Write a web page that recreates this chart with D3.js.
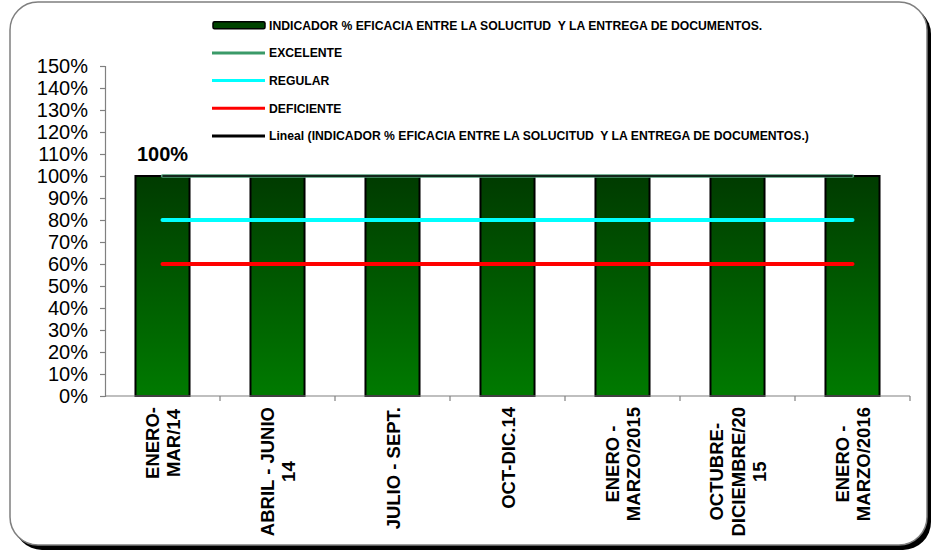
<!DOCTYPE html>
<html>
<head>
<meta charset="utf-8">
<script src="https://cdn.jsdelivr.net/npm/d3@7"></script>
<style>
  html, body { margin: 0; padding: 0; background: #fff; }
  svg { display: block; font-family: Arial, "Liberation Sans", sans-serif; }
</style>
</head>
<body>
<svg width="933" height="554"></svg>
<script>
// datos del gráfico
const categorias = [
  "ENERO-\nMAR/14",
  "ABRIL - JUNIO\n14",
  "JULIO - SEPT.",
  "OCT-DIC.14",
  "ENERO -\nMARZO/2015",
  "OCTUBRE-\nDICIEMBRE/20\n15",
  "ENERO -\nMARZO/2016"
];
const indicador = [1, 1, 1, 1, 1, 1, 1];
const excelente = [1, 1, 1, 1, 1, 1, 1];
const regular = [0.8, 0.8, 0.8, 0.8, 0.8, 0.8, 0.8];
const deficiente = [0.6, 0.6, 0.6, 0.6, 0.6, 0.6, 0.6];
const lineal = [1, 1, 1, 1, 1, 1, 1];
const ticksY = [0, 0.1, 0.2, 0.3, 0.4, 0.5, 0.6, 0.7, 0.8, 0.9, 1.0, 1.1, 1.2, 1.3, 1.4, 1.5];
const etiquetasLeyenda = [
  "INDICADOR % EFICACIA ENTRE LA SOLUCITUD  Y LA ENTREGA DE DOCUMENTOS.",
  "EXCELENTE",
  "REGULAR",
  "DEFICIENTE",
  "Lineal (INDICADOR % EFICACIA ENTRE LA SOLUCITUD  Y LA ENTREGA DE DOCUMENTOS.)"
];

const svg = d3.select("svg");

// marco con sombra
svg.append("rect")
  .attr("x", 14).attr("y", 6).attr("width", 917).attr("height", 544)
  .attr("rx", 28).attr("fill", "#000");
svg.append("rect")
  .attr("x", 10).attr("y", 2).attr("width", 917).attr("height", 543)
  .attr("rx", 28).attr("fill", "#fff")
  .attr("stroke", "#7f7f7f").attr("stroke-width", 1.5);

// degradado de las barras
const grad = svg.append("defs").append("linearGradient")
  .attr("id", "verde").attr("x1", 0).attr("y1", 0).attr("x2", 0).attr("y2", 1);
grad.append("stop").attr("offset", "0%").attr("stop-color", "#003b00");
grad.append("stop").attr("offset", "100%").attr("stop-color", "#007a00");

// escalas
const x = d3.scaleBand().domain(categorias).range([105, 910]).paddingInner(0.53).paddingOuter(0.265);
const y = d3.scaleLinear().domain([0, 1.5]).range([396, 66]);
const cx = d => x(d) + x.bandwidth() / 2;

// eje Y
const ejeY = svg.append("g")
  .attr("transform", "translate(105,0)")
  .call(d3.axisLeft(y).tickValues(ticksY).tickFormat(d3.format(".0%")).tickSizeOuter(0).tickSize(5).tickPadding(12));
ejeY.selectAll("line, path").attr("stroke", "#808080").attr("stroke-width", 1.2);
ejeY.selectAll("text").attr("font-size", 20).attr("fill", "#000")
  .attr("font-family", "Arial, 'Liberation Sans', sans-serif");

// barras
svg.selectAll(".barra")
  .data(categorias)
  .enter()
  .append("rect")
  .attr("class", "barra")
  .attr("x", d => x(d))
  .attr("y", (d, i) => y(indicador[i]))
  .attr("width", x.bandwidth())
  .attr("height", (d, i) => y(0) - y(indicador[i]))
  .attr("fill", "url(#verde)")
  .attr("stroke", "#000")
  .attr("stroke-width", 2);

// eje X con marcas entre categorías
const ejeX = svg.append("g").attr("transform", "translate(0,396)");
ejeX.append("line").attr("x1", 105).attr("x2", 910).attr("stroke", "#808080").attr("stroke-width", 1.2);
ejeX.selectAll(".marca")
  .data(categorias)
  .enter()
  .append("line")
  .attr("x1", d => x(d) - x.step() * x.paddingInner() / 2 + x.step())
  .attr("x2", d => x(d) - x.step() * x.paddingInner() / 2 + x.step())
  .attr("y1", 0).attr("y2", 5)
  .attr("stroke", "#808080").attr("stroke-width", 1.2);

// líneas de referencia
const linea = d3.line()
  .x((d, i) => cx(categorias[i]))
  .y(d => y(d));

svg.append("path").datum(excelente).attr("d", linea)
  .attr("fill", "none").attr("stroke", "#4f9a76").attr("stroke-width", 3.5).attr("stroke-linecap", "round");
svg.append("path").datum(regular).attr("d", linea)
  .attr("fill", "none").attr("stroke", "#00ffff").attr("stroke-width", 4).attr("stroke-linecap", "round");
svg.append("path").datum(deficiente).attr("d", linea)
  .attr("fill", "none").attr("stroke", "#ff0000").attr("stroke-width", 4).attr("stroke-linecap", "round");
svg.append("path").datum(lineal).attr("d", linea)
  .attr("fill", "none").attr("stroke", "#000").attr("stroke-width", 1.5);

// etiqueta de dato
svg.append("text")
  .attr("x", cx(categorias[0]))
  .attr("y", y(indicador[0]) - 15)
  .attr("text-anchor", "middle")
  .attr("font-size", 20).attr("font-weight", "bold")
  .text(d3.format(".0%")(indicador[0]));

// etiquetas de categoría (giradas)
const fs = 18.5, interlinea = 21.5, alto = 14;
categorias.forEach(c => {
  const lineas = c.split("\n");
  const total = (lineas.length - 1) * interlinea + alto;
  const g = svg.append("g")
    .attr("transform", `translate(${cx(c) - total / 2 + alto},407) rotate(-90)`);
  const textos = lineas.map((l, i) => g.append("text")
    .attr("y", i * interlinea)
    .attr("font-size", fs).attr("font-weight", "bold")
    .attr("text-anchor", "middle")
    .text(l));
  const maxW = d3.max(textos, t => t.node().getComputedTextLength());
  textos.forEach(t => t.attr("x", -maxW / 2));
});

// leyenda
const leyenda = svg.append("g");
leyenda.append("rect")
  .attr("x", 205).attr("y", 8).attr("width", 640).attr("height", 142)
  .attr("fill", "#fff");
const filaY = i => 25.2 + i * 27.7;
leyenda.append("rect")
  .attr("x", 213).attr("y", filaY(0) - 3.5).attr("width", 52).attr("height", 7)
  .attr("fill", "#004400").attr("stroke", "#000").attr("stroke-width", 1.5).attr("rx", 1.5);
const coloresLinea = [null, "#3a9a68", "#00ffff", "#ff0000", "#000"];
coloresLinea.forEach((col, i) => {
  if (!col) return;
  leyenda.append("line")
    .attr("x1", 212).attr("x2", 265)
    .attr("y1", filaY(i)).attr("y2", filaY(i))
    .attr("stroke", col).attr("stroke-width", 3);
});
etiquetasLeyenda.forEach((t, i) => {
  leyenda.append("text")
    .attr("x", 269).attr("y", filaY(i) + 4.3)
    .attr("font-size", 12.2).attr("font-weight", "bold")
    .attr("xml:space", "preserve")
    .style("white-space", "pre")
    .text(t);
});
</script>
</body>
</html>
